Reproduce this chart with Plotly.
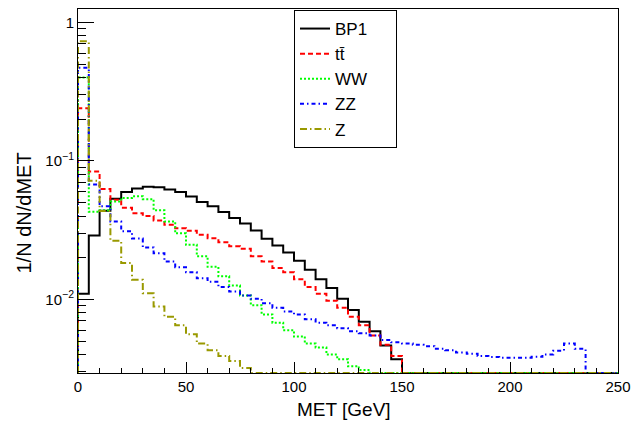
import plotly.graph_objects as go

# MET bins: 5 GeV wide, 0-250 GeV
bin_edges = list(range(0, 255, 5))

# normalized distributions 1/N dN/dMET (0 = empty bin)
bp1 = [0.0110, 0.0290, 0.0437, 0.0533, 0.0596, 0.0632, 0.0652, 0.0645, 0.0622, 0.0596,
       0.0554, 0.0505, 0.0470, 0.0428, 0.0387, 0.0354, 0.0315, 0.0274, 0.0245, 0.0218,
       0.0190, 0.0164, 0.0140, 0.0121, 0.0101, 0.0084, 0.0069, 0.0059, 0.00466, 0.0037,
       0, 0, 0, 0, 0, 0, 0, 0, 0, 0,
       0, 0, 0, 0, 0, 0, 0, 0, 0, 0]
ttbar = [0.240, 0.084, 0.0627, 0.0525, 0.0460, 0.0420, 0.0400, 0.0372, 0.0346, 0.0327,
         0.0313, 0.0293, 0.0277, 0.0259, 0.0242, 0.0232, 0.0205, 0.0188, 0.0169, 0.0157,
         0.0140, 0.0123, 0.0110, 0.0098, 0.0087, 0.0075, 0.0065, 0.0055, 0.0047, 0.0039,
         0, 0, 0, 0, 0, 0, 0, 0, 0, 0,
         0, 0, 0, 0, 0, 0, 0, 0, 0, 0]
ww = [0.400, 0.0430, 0.0440, 0.0510, 0.0540, 0.0555, 0.0530, 0.0440, 0.0366, 0.0300,
      0.0248, 0.0205, 0.0172, 0.0147, 0.0126, 0.0107, 0.0091, 0.0078, 0.0068, 0.0060,
      0.0054, 0.0048, 0.0045, 0.0040, 0.0037, 0.0033, 0.0031, 0, 0, 0,
      0, 0, 0, 0, 0, 0, 0, 0, 0, 0,
      0, 0, 0, 0, 0, 0, 0, 0, 0, 0]
zz = [0.470, 0.0675, 0.0470, 0.0366, 0.0311, 0.0275, 0.0237, 0.0216, 0.0188, 0.0171,
      0.0157, 0.0142, 0.0134, 0.0123, 0.0114, 0.0107, 0.0101, 0.0094, 0.0087, 0.0082,
      0.0078, 0.0072, 0.0068, 0.0065, 0.0062, 0.0059, 0.0057, 0.0055, 0.0051, 0.0049,
      0.0048, 0.0047, 0.0046, 0.0044, 0.0043, 0.00414, 0.00405, 0.0039, 0.00384, 0.0038,
      0.0038, 0.0038, 0.00385, 0.0040, 0.00426, 0.0048, 0.0044, 0, 0, 0]
zjets = [0.730, 0.0720, 0.0435, 0.0265, 0.0183, 0.0139, 0.0111, 0.0089, 0.0075, 0.0065,
         0.0056, 0.0048, 0.0043, 0.0039, 0.0036, 0.0032, 0, 0, 0, 0,
         0, 0, 0, 0, 0, 0, 0, 0, 0, 0,
         0, 0, 0, 0, 0, 0, 0, 0, 0, 0,
         0, 0, 0, 0, 0, 0, 0, 0, 0, 0]

series_names = ["BP1", "tt\u0304", "WW", "ZZ", "Z"]
series_values = [bp1, ttbar, ww, zz, zjets]
series_colors = ["#000000", "#ff0000", "#00ff00", "#0000ff", "#999900"]
series_dashes = ["solid", "5px,3px", "2px,2px", "4px,3px,1.5px,3px", "7px,3px,1.5px,3px"]

x_tick_vals = [0, 50, 100, 150, 200, 250]
y_tick_vals = [0.01, 0.1, 1]
y_tick_text = ["10<sup>\u22122</sup>", "10<sup>\u22121</sup>", "1"]
y_minor_vals = [m * d for d in (0.001, 0.01, 0.1) for m in range(2, 10)]

ylog_range = [-2.531, 0.097]
floor = 10 ** ylog_range[0]

FONT = "Liberation Sans, Arial, Helvetica, sans-serif"
PAD = "\u00a0" * 5  # widens the legend box to match the reference frame

fig = go.Figure()
for i, (name, vals, col, dash) in enumerate(zip(series_names, series_values, series_colors, series_dashes)):
    shown = [v if v > 0 else floor for v in vals]
    xs = [bin_edges[0]] + bin_edges[:-1] + [bin_edges[-1], bin_edges[-1]]
    ys = [floor] + shown + [shown[-1], floor]
    fig.add_trace(go.Scatter(
        x=xs, y=ys, mode="lines", name=name + (PAD if i == 0 else ""),
        line=dict(color=col, width=2, dash=dash, shape="hv"),
        hoverinfo="skip",
    ))

fig.update_layout(
    width=644, height=423,
    margin=dict(l=78, r=26, t=9, b=50),
    paper_bgcolor="white", plot_bgcolor="white",
    font=dict(family=FONT, size=15, color="black"),
    showlegend=True,
    legend=dict(
        x=(294 - 78) / 540, y=(373 - 10) / 364, xanchor="left", yanchor="top",
        bgcolor="white", bordercolor="black", borderwidth=1,
        font=dict(family=FONT, size=17, color="black"),
        tracegroupgap=0, itemwidth=30,
    ),
    xaxis=dict(
        range=[0, 250], showgrid=False, zeroline=False,
        showline=True, linecolor="black", linewidth=1, mirror=True,
        ticks="inside", ticklen=11, tickcolor="black", tickwidth=1,
        tickmode="array", tickvals=x_tick_vals,
        tickfont=dict(family=FONT, size=15),
        minor=dict(dtick=10, tick0=0, ticks="inside", ticklen=5.5, tickcolor="black", showgrid=False),
    ),
    yaxis=dict(
        type="log", range=ylog_range, showgrid=False, zeroline=False,
        showline=True, linecolor="black", linewidth=1, mirror=True,
        ticks="inside", ticklen=16, tickcolor="black", tickwidth=1,
        tickmode="array", tickvals=y_tick_vals, ticktext=y_tick_text,
        tickfont=dict(family=FONT, size=15),
        minor=dict(tickmode="array", tickvals=y_minor_vals, ticks="inside", ticklen=8,
                   tickcolor="black", showgrid=False),
    ),
    annotations=[
        dict(text="MET [GeV]", xref="paper", yref="paper",
             x=(343.5 - 78) / 540, y=(373 - 409) / 364, showarrow=False,
             xanchor="center", yanchor="middle", font=dict(family=FONT, size=19)),
        dict(text="1/N dN/dMET", xref="paper", yref="paper",
             x=(23 - 78) / 540, y=(373 - 213.5) / 364, showarrow=False, textangle=-90,
             xanchor="center", yanchor="middle", font=dict(family=FONT, size=20)),
    ],
)

fig.write_html("out.html", config={"displayModeBar": False},
               post_script="document.body.style.margin='0px';")
